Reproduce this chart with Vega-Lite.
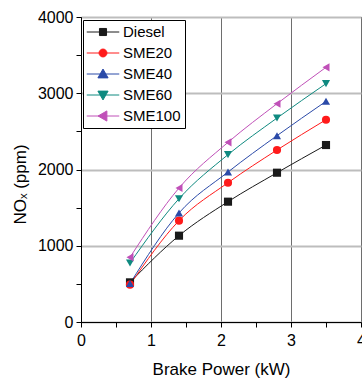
{
  "$schema": "https://vega.github.io/schema/vega-lite/v6.json",
  "width": 280,
  "height": 305,
  "autosize": {"type": "none"},
  "padding": {"left": 81, "top": 17, "right": 1, "bottom": 58},
  "background": "white",
  "config": {
    "font": "Liberation Sans",
    "view": {"stroke": "black", "strokeWidth": 1},
    "axis": {"domainColor": "black", "tickColor": "black", "labelColor": "black", "titleColor": "black", "titleFontWeight": "normal", "labelFont": "Liberation Sans", "titleFont": "Liberation Sans"}
  },
  "data": {
    "values": [
      {"series": "Diesel", "power": 0.7, "nox": 520},
      {"series": "Diesel", "power": 1.4, "nox": 1132},
      {"series": "Diesel", "power": 2.1, "nox": 1578},
      {"series": "Diesel", "power": 2.8, "nox": 1958},
      {"series": "Diesel", "power": 3.5, "nox": 2321},
      {"series": "SME20", "power": 0.7, "nox": 490},
      {"series": "SME20", "power": 1.4, "nox": 1329},
      {"series": "SME20", "power": 2.1, "nox": 1827},
      {"series": "SME20", "power": 2.8, "nox": 2256},
      {"series": "SME20", "power": 3.5, "nox": 2653},
      {"series": "SME40", "power": 0.7, "nox": 505},
      {"series": "SME40", "power": 1.4, "nox": 1430},
      {"series": "SME40", "power": 2.1, "nox": 1967},
      {"series": "SME40", "power": 2.8, "nox": 2444},
      {"series": "SME40", "power": 3.5, "nox": 2894},
      {"series": "SME60", "power": 0.7, "nox": 774},
      {"series": "SME60", "power": 1.4, "nox": 1617},
      {"series": "SME60", "power": 2.1, "nox": 2195},
      {"series": "SME60", "power": 2.8, "nox": 2675},
      {"series": "SME60", "power": 3.5, "nox": 3126},
      {"series": "SME100", "power": 0.7, "nox": 848},
      {"series": "SME100", "power": 1.4, "nox": 1757},
      {"series": "SME100", "power": 2.1, "nox": 2356},
      {"series": "SME100", "power": 2.8, "nox": 2863},
      {"series": "SME100", "power": 3.5, "nox": 3340}
    ]
  },
  "encoding": {
    "x": {
      "field": "power", "type": "quantitative",
      "scale": {"domain": [0, 4], "nice": false, "zero": false},
      "axis": {
        "title": "Brake Power (kW)",
        "values": [0, 0.5, 1, 1.5, 2, 2.5, 3, 3.5, 4],
        "labelExpr": "datum.value % 1 === 0 ? format(datum.value, 'd') : ''",
        "grid": true,
        "gridColor": "#6e6e6e",
        "gridWidth": 1,
        "gridOpacity": {"condition": {"test": "datum.value % 1 !== 0", "value": 0}, "value": 1},
        "tickSize": 5,
        "labelFontSize": 16,
        "labelPadding": 5,
        "titleFontSize": 17,
        "titlePadding": 13,
        "labelFlush": false,
        "labelOverlap": false
      }
    },
    "y": {
      "field": "nox", "type": "quantitative",
      "scale": {"domain": [0, 4000], "nice": false},
      "axis": {
        "title": "NOₓ (ppm)",
        "values": [0, 500, 1000, 1500, 2000, 2500, 3000, 3500, 4000],
        "labelExpr": "datum.value % 1000 === 0 ? format(datum.value, 'd') : ''",
        "grid": true,
        "gridColor": "#bdbdbd",
        "gridWidth": 2,
        "gridOpacity": {"condition": {"test": "datum.value % 1000 !== 0", "value": 0}, "value": 1},
        "tickSize": 5,
        "labelFontSize": 16,
        "labelPadding": 3,
        "titleFontSize": 17,
        "titlePadding": 8,
        "titleY": 167,
        "labelFlush": false,
        "labelOverlap": false
      }
    }
  },
  "layer": [
    {
      "mark": {"type": "point", "filled": true, "opacity": 1, "size": 0},
      "encoding": {
        "color": {
          "field": "series", "type": "nominal", "title": null,
          "scale": {"domain": ["Diesel", "SME20", "SME40", "SME60", "SME100"], "range": ["#1a1a1a", "#ff1a1a", "#2b4aa8", "#0f8a80", "#c050b8"]},
          "legend": {
            "orient": "none",
            "legendX": 2,
            "legendY": 3,
            "symbolSize": 200,
            "symbolType": {"expr": "datum.value === 'Diesel' ? 'M-2.3,0H2.3M-0.5,-0.5H0.5V0.5H-0.5Z' : datum.value === 'SME20' ? 'M-2.3,0H2.3M0.56,0A0.56,0.56 0 1 1 -0.56,0A0.56,0.56 0 1 1 0.56,0Z' : datum.value === 'SME40' ? 'M-2.3,0H2.3M0,-0.7L0.72,0.55L-0.72,0.55Z' : datum.value === 'SME60' ? 'M-2.3,0H2.3M0,0.7L0.72,-0.55L-0.72,-0.55Z' : 'M-2.3,0H2.3M-0.7,0L0.55,-0.72L0.55,0.72Z'"},
            "symbolStrokeColor": {"expr": "scale('color', datum.value)"},
            "symbolStrokeWidth": 1,
            "symbolOpacity": 1,
            "symbolOffset": 8,
            "labelFontSize": 15,
            "labelFont": "Liberation Sans",
            "labelColor": "black",
            "labelOffset": 12,
            "strokeColor": "black",
            "fillColor": "white",
            "padding": 4,
            "rowPadding": 5
          }
        }
      }
    },
    {
      "mark": {"type": "line", "interpolate": "monotone", "strokeWidth": 1},
      "encoding": {
        "color": {
          "field": "series", "type": "nominal",
          "scale": {"domain": ["Diesel", "SME20", "SME40", "SME60", "SME100"], "range": ["#1a1a1a", "#ff1a1a", "#2b4aa8", "#0f8a80", "#c050b8"]},
          "legend": null
        }
      }
    },
    {
      "mark": {"type": "point", "filled": true, "opacity": 1, "size": 66},
      "encoding": {
        "color": {
          "field": "series", "type": "nominal",
          "scale": {"domain": ["Diesel", "SME20", "SME40", "SME60", "SME100"], "range": ["#1a1a1a", "#ff1a1a", "#2b4aa8", "#0f8a80", "#c050b8"]},
          "legend": null
        },
        "shape": {
          "field": "series", "type": "nominal",
          "sort": ["Diesel", "SME20", "SME40", "SME60", "SME100"],
          "scale": {"range": ["square", "circle", "triangle-up", "triangle-down", "triangle-left"]},
          "legend": null
        }
      }
    }
  ]
}
